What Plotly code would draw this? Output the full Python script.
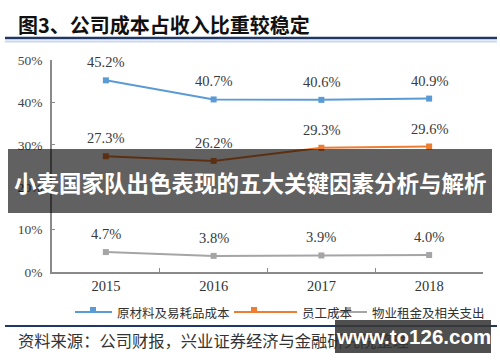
import plotly.graph_objects as go

years = ["2015", "2016", "2017", "2018"]
raw_material = [45.2, 40.7, 40.6, 40.9]
staff_cost = [27.3, 26.2, 29.3, 29.6]
rent_cost = [4.7, 3.8, 3.9, 4.0]
series_names = ["原材料及易耗品成本", "员工成本", "物业租金及相关支出"]
series_colors = ["#5B9BD5", "#ED7D31", "#A5A5A5"]
y_ticks = [0, 10, 20, 30, 40, 50]
y_tick_text = [f"{v}%" for v in y_ticks]

W, H = 500, 362
L, R, T, B = 52, 17, 60, 90
PW, PH = W - L - R, H - T - B


def px(x):
    return (x - L) / PW


def py(y):
    return (H - B - y) / PH


fig = go.Figure()
serif = "Liberation Serif, Times New Roman, serif"
cjk = "Noto Sans CJK SC"

annotations = []
for name, vals, col in zip(series_names, [raw_material, staff_cost, rent_cost], series_colors):
    fig.add_trace(go.Scatter(
        x=years, y=vals, name=name, mode="lines+markers",
        line=dict(color=col, width=2),
        marker=dict(symbol="square", size=6, color=col),
        cliponaxis=False, showlegend=False,
    ))
    for i, yv in enumerate(vals):
        annotations.append(dict(
            x=i, y=yv, xref="x", yref="y", text=f"{yv:.1f}%", showarrow=False,
            yshift=18, font=dict(family=serif, size=14.5, color="#3a3a3a"),
        ))

# Title
annotations.append(dict(
    x=px(16), y=py(24), xref="paper", yref="paper", xanchor="left", yanchor="middle",
    text="<b>图3、公司成本占收入比重较稳定</b>", showarrow=False,
    font=dict(family=cjk, size=20, color="#111111"),
))
# Source
annotations.append(dict(
    x=px(16), y=py(340), xref="paper", yref="paper", xanchor="left", yanchor="middle",
    text="资料来源：公司财报，兴业证券经济与金融研究院整理", showarrow=False,
    font=dict(family=cjk, size=16.3, color="#333333"),
))
# Overlay band text
annotations.append(dict(
    x=px(250), y=py(182), xref="paper", yref="paper", xanchor="center", yanchor="middle",
    text="<b>小麦国家队出色表现的五大关键因素分析与解析</b>", showarrow=False,
    font=dict(family=cjk, size=22.5, color="#ffffff"),
))
# Watermark text
annotations.append(dict(
    x=px(413), y=py(336), xref="paper", yref="paper", xanchor="center", yanchor="middle",
    text="<b>www.to126.com</b>", showarrow=False,
    font=dict(family="Liberation Sans, Arial, sans-serif", size=20.5, color="#ffffff"),
))

shapes = [
    dict(type="line", xref="paper", yref="paper", x0=px(5), x1=px(497), y0=py(38), y1=py(38),
         line=dict(color="#1F3864", width=2.5)),
    dict(type="line", xref="paper", yref="paper", x0=px(5), x1=px(497), y0=py(41.5), y1=py(41.5),
         line=dict(color="#C9D8EE", width=2)),
    dict(type="line", xref="paper", yref="paper", x0=px(5), x1=px(497), y0=py(326), y1=py(326),
         line=dict(color="#1F3864", width=2)),
]

# Manual legend (decorative)
legend_items = [
    (75, 112, 93, 115),
    (234, 297, 254, 300),
    (332, 367, 348, 370),
]
ly = 312
for (lx0, lx1, mx, tx), name, col in zip(legend_items, series_names, series_colors):
    shapes.append(dict(type="line", xref="paper", yref="paper", x0=px(lx0), x1=px(lx1),
                       y0=py(ly), y1=py(ly), line=dict(color=col, width=2)))
    shapes.append(dict(type="rect", xref="paper", yref="paper", x0=px(mx - 3), x1=px(mx + 3),
                       y0=py(ly + 1), y1=py(ly - 5), fillcolor=col, line=dict(width=0)))
    annotations.append(dict(
        x=px(tx), y=py(ly), xref="paper", yref="paper", xanchor="left", yanchor="middle",
        text=name, showarrow=False, font=dict(family=cjk, size=12.5, color="#333333"),
    ))

shapes += [
    dict(type="rect", xref="paper", yref="paper", x0=px(8), x1=px(492), y0=py(213), y1=py(149),
         fillcolor="rgba(0,0,0,0.62)", line=dict(width=0), layer="above"),
    dict(type="rect", xref="paper", yref="paper", x0=px(335), x1=px(491), y0=py(353), y1=py(320),
         fillcolor="rgba(55,55,55,0.88)", line=dict(width=0), layer="above"),
]

fig.update_layout(
    width=W, height=H,
    margin=dict(l=L, r=R, t=T, b=B, pad=0),
    paper_bgcolor="white", plot_bgcolor="white",
    showlegend=False,
    annotations=annotations,
    shapes=shapes,
    xaxis=dict(
        type="category", range=[-0.5, 3.5], showgrid=False, zeroline=False,
        showline=True, linecolor="#8a8a8a", linewidth=1.5,
        ticks="inside", tickson="boundaries", ticklen=4, tickcolor="#8a8a8a",
        tickfont=dict(family=serif, size=14.5, color="#333333"),
        fixedrange=True,
    ),
    yaxis=dict(
        range=[0, 50], tickmode="array", tickvals=y_ticks, ticktext=y_tick_text,
        showgrid=False, zeroline=False,
        showline=True, linecolor="#8a8a8a", linewidth=1.5,
        ticks="inside", ticklen=3, tickcolor="#8a8a8a", ticklabelstandoff=5,
        tickfont=dict(family=serif, size=13.5, color="#444444"),
        fixedrange=True,
    ),
)

fig.write_html("out.html")
